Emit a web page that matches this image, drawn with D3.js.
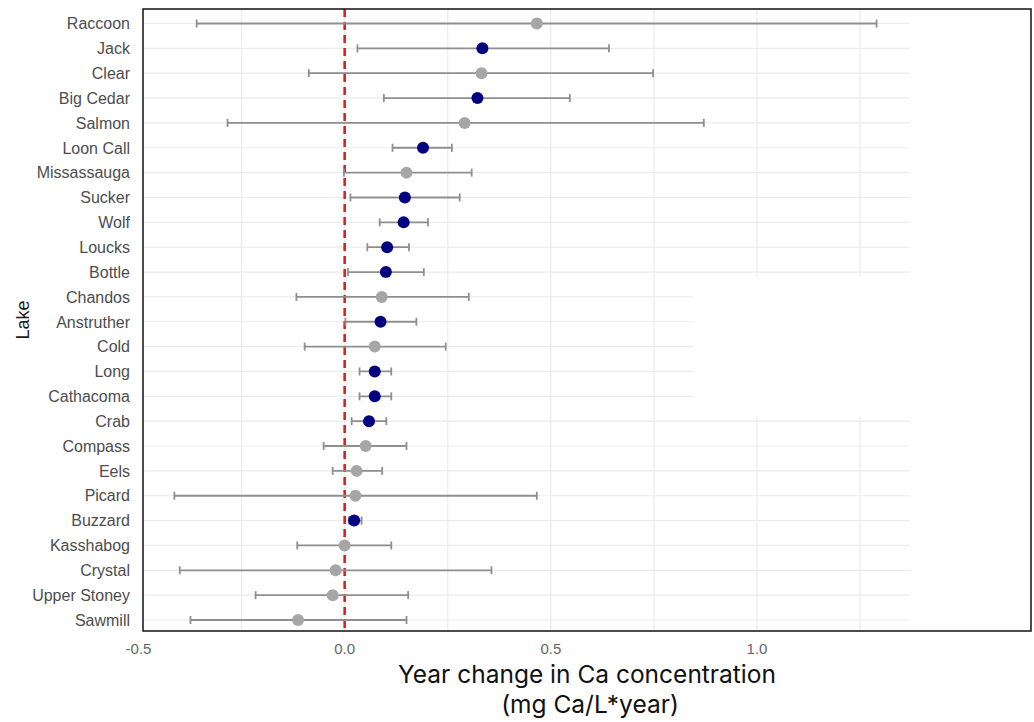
<!DOCTYPE html>
<meta charset="utf-8">
<style>
	body { margin: 0; background: #fff; }
	.lake-label { font: 16px "Liberation Sans", Arial, sans-serif; fill: #4d4d4d; }
	.tick-label { font: 15px "Liberation Sans", Arial, sans-serif; fill: #666; text-anchor: middle; }
	.axis-title { font: 18px "Liberation Sans", Arial, sans-serif; fill: #1a1a1a; }
	.x-title { font: 24.5px Inter, "Open Sans", sans-serif; fill: #111; text-anchor: middle; }
	.grid line { stroke: #ebebeb; stroke-width: 1.2; }
</style>
<body>
<script src="https://d3js.org/d3.v7.min.js"></script>
<script>

	var lakes = ["Raccoon", "Jack", "Clear", "Big Cedar", "Salmon", "Loon Call", "Missassauga",
		"Sucker", "Wolf", "Loucks", "Bottle", "Chandos", "Anstruther", "Cold", "Long", "Cathacoma",
		"Crab", "Compass", "Eels", "Picard", "Buzzard", "Kasshabog", "Crystal", "Upper Stoney", "Sawmill"];
	var estimate = [0.466, 0.334, 0.332, 0.322, 0.291, 0.190, 0.150, 0.146, 0.143, 0.103, 0.100, 0.090,
		0.087, 0.073, 0.073, 0.073, 0.059, 0.051, 0.029, 0.026, 0.023, 0.000, -0.022, -0.029, -0.113];
	var lower = [-0.359, 0.031, -0.087, 0.095, -0.284, 0.116, -0.002, 0.014, 0.085, 0.055, 0.008, -0.117,
		0.002, -0.097, 0.036, 0.036, 0.017, -0.051, -0.029, -0.413, 0.010, -0.115, -0.400, -0.216, -0.374];
	var upper = [1.290, 0.641, 0.748, 0.546, 0.871, 0.260, 0.308, 0.279, 0.202, 0.156, 0.192, 0.301,
		0.174, 0.245, 0.113, 0.113, 0.101, 0.150, 0.091, 0.466, 0.041, 0.113, 0.356, 0.154, 0.150];
	var significant = [false, true, false, true, false, true, false, true, true, true, true, false,
		true, false, true, true, true, false, false, false, true, false, false, false, false];

	var xTicks = [-0.5, 0, 0.5, 1.0];
	var xTickLabels = ["-0.5", "0.0", "0.5", "1.0"];
	var gridBreaks = [-0.25, 0, 0.25, 0.5, 0.75, 1.0, 1.25];

	var width = 1034,
		height = 722;
	var panel = {left: 143, top: 9, right: 1031, bottom: 631};
	var gridEnd = 1.37;

	var rows = lakes.map(function(d, i) {
		return {lake: d, est: estimate[i], lo: lower[i], hi: upper[i], sig: significant[i]};
	});

	var x = d3.scaleLinear()
		.domain([-0.5, 1.0])
		.range([138.5, 757]);

	var y = d3.scalePoint()
		.domain(lakes)
		.range([23.5, 620]);

	var svg = d3.select("body").append("svg")
		.attr("width", width)
		.attr("height", height);

	// grid
	var grid = svg.append("g").attr("class", "grid");

	grid.selectAll(".hgrid")
		.data(lakes)
		.enter().append("line")
		.attr("x1", panel.left)
		.attr("x2", x(gridEnd))
		.attr("y1", function(d) { return y(d); })
		.attr("y2", function(d) { return y(d); });

	grid.selectAll(".vgrid")
		.data(gridBreaks)
		.enter().append("line")
		.attr("x1", function(d) { return x(d); })
		.attr("x2", function(d) { return x(d); })
		.attr("y1", panel.top)
		.attr("y2", panel.bottom);

	// blank patch over part of the grid (as in the source image)
	var step = y.step();
	svg.append("rect")
		.attr("x", x(0.845))
		.attr("y", y("Chandos") - step * 0.8)
		.attr("width", x(gridEnd) - x(0.845) + 2)
		.attr("height", y("Cathacoma") - y("Chandos") + step * 1.6)
		.attr("fill", "#fff");

	// zero line
	svg.append("line")
		.attr("x1", x(0))
		.attr("x2", x(0))
		.attr("y1", panel.top)
		.attr("y2", panel.bottom)
		.attr("stroke", "#e0201b")
		.attr("stroke-width", 2.6)
		.attr("stroke-dasharray", "8,5");

	// error bars
	var bars = svg.selectAll(".bar")
		.data(rows)
		.enter().append("g")
		.attr("class", "bar")
		.attr("stroke", "#8f8f8f")
		.attr("stroke-width", 1.8);

	bars.append("line")
		.attr("x1", function(d) { return x(d.lo); })
		.attr("x2", function(d) { return x(d.hi); })
		.attr("y1", function(d) { return y(d.lake); })
		.attr("y2", function(d) { return y(d.lake); });

	bars.append("line")
		.attr("x1", function(d) { return x(d.lo); })
		.attr("x2", function(d) { return x(d.lo); })
		.attr("y1", function(d) { return y(d.lake) - 4; })
		.attr("y2", function(d) { return y(d.lake) + 4; });

	bars.append("line")
		.attr("x1", function(d) { return x(d.hi); })
		.attr("x2", function(d) { return x(d.hi); })
		.attr("y1", function(d) { return y(d.lake) - 4; })
		.attr("y2", function(d) { return y(d.lake) + 4; });

	// points
	svg.selectAll(".pt")
		.data(rows)
		.enter().append("circle")
		.attr("class", "pt")
		.attr("cx", function(d) { return x(d.est); })
		.attr("cy", function(d) { return y(d.lake); })
		.attr("r", 6)
		.attr("fill", function(d) { return d.sig ? "#000080" : "#a6a6a6"; });

	// panel border
	svg.append("rect")
		.attr("x", panel.left)
		.attr("y", panel.top)
		.attr("width", panel.right - panel.left)
		.attr("height", panel.bottom - panel.top)
		.attr("fill", "none")
		.attr("stroke", "#111")
		.attr("stroke-width", 1.5);

	// y labels
	svg.selectAll(".lake-label")
		.data(lakes)
		.enter().append("text")
		.attr("class", "lake-label")
		.attr("x", 130)
		.attr("y", function(d) { return y(d); })
		.attr("dy", "0.36em")
		.attr("text-anchor", "end")
		.text(function(d) { return d; });

	// x tick labels
	svg.selectAll(".tick-label")
		.data(xTicks)
		.enter().append("text")
		.attr("class", "tick-label")
		.attr("x", function(d) { return x(d); })
		.attr("y", 654)
		.text(function(d, i) { return xTickLabels[i]; });

	svg.append("text")
		.attr("class", "axis-title")
		.attr("transform", "translate(29," + ((panel.top + panel.bottom) / 2) + ") rotate(-90)")
		.attr("text-anchor", "middle")
		.text("Lake");

	// x title, two lines
	svg.append("text")
		.attr("class", "x-title")
		.attr("x", 587)
		.attr("y", 683)
		.text("Year change in Ca concentration");

	svg.append("text")
		.attr("class", "x-title")
		.attr("x", 590)
		.attr("y", 713)
		.text("(mg Ca/L*year)");
</script>
